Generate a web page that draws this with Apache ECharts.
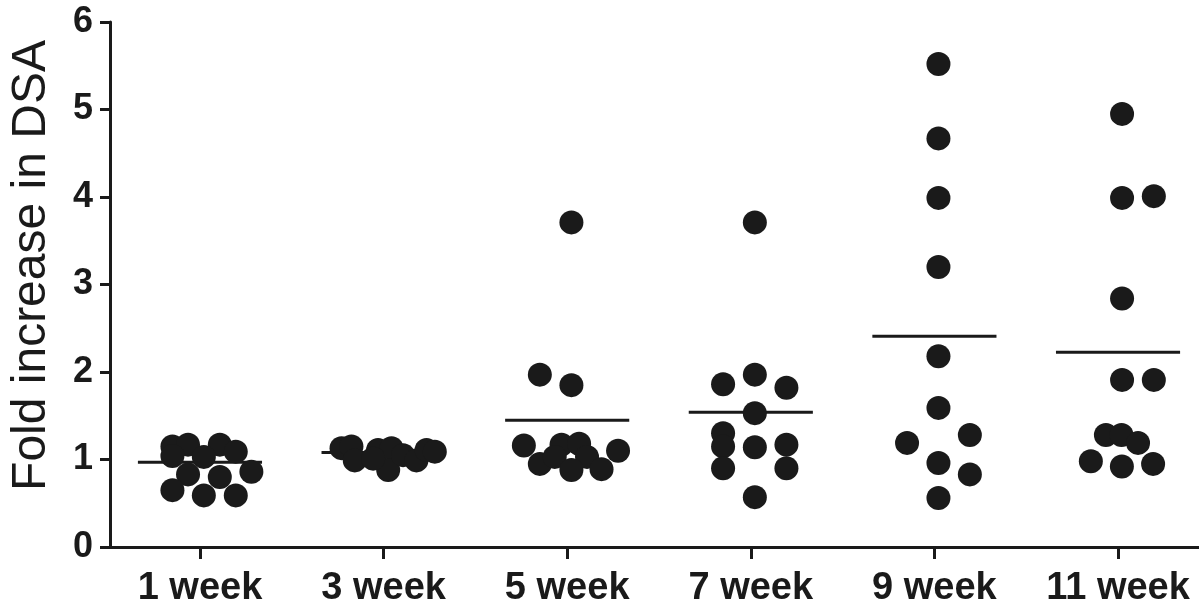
<!DOCTYPE html>
<html>
<head>
<meta charset="utf-8">
<script src="https://cdn.jsdelivr.net/npm/echarts@6/dist/echarts.min.js"></script>
<style>
html,body{margin:0;padding:0;background:#fff;}
#chart{width:1199px;height:606px;}
</style>
</head>
<body>
<div id="chart"></div>
<script>
// ---- data ----
const categories = ['1 week', '3 week', '5 week', '7 week', '9 week', '11 week'];
const yTicks = [0, 1, 2, 3, 4, 5, 6];

const week1Values = [1.15, 1.17, 1.17, 1.09, 1.04, 1.03, 0.83, 0.80, 0.86, 0.65, 0.59, 0.59];
const week1Jitter = [-0.150, -0.065, 0.108, 0.195, -0.150, 0.021, -0.065, 0.108, 0.280, -0.150, 0.021, 0.195];

const week3Values = [1.13, 1.15, 0.99, 1.11, 1.13, 0.88, 1.05, 0.99, 1.11, 1.09, 1.01];
const week3Jitter = [-0.229, -0.175, -0.157, -0.030, 0.043, 0.025, 0.106, 0.179, 0.234, 0.279, -0.057];

const week5Values = [3.71, 1.97, 1.85, 1.16, 0.95, 1.17, 1.18, 1.03, 1.03, 0.88, 0.89, 1.10];
const week5Jitter = [0.023, -0.149, 0.023, -0.236, -0.149, -0.031, 0.065, -0.068, 0.108, 0.023, 0.187, 0.277];

const week7Values = [3.71, 1.86, 1.97, 1.82, 1.53, 1.30, 1.15, 1.14, 1.17, 0.90, 0.90, 0.57];
const week7Jitter = [0.022, -0.151, 0.022, 0.194, 0.022, -0.151, -0.151, 0.022, 0.194, -0.151, 0.194, 0.022];

const week9Values = [5.52, 4.67, 3.99, 3.20, 2.18, 1.59, 1.19, 1.28, 0.96, 0.83, 0.56];
const week9Jitter = [0.022, 0.022, 0.022, 0.022, 0.022, 0.022, -0.149, 0.193, 0.022, 0.193, 0.022];

const week11Values = [4.95, 3.99, 4.01, 2.84, 1.91, 1.91, 1.28, 1.28, 1.19, 0.98, 0.92, 0.95];
const week11Jitter = [0.022, 0.022, 0.195, 0.022, 0.022, 0.195, -0.066, 0.019, 0.109, -0.148, 0.021, 0.191];

const meanValues = [0.97, 1.08, 1.45, 1.54, 2.41, 2.225];

// ---- build ----
const groups = [
  [week1Values, week1Jitter],
  [week3Values, week3Jitter],
  [week5Values, week5Jitter],
  [week7Values, week7Jitter],
  [week9Values, week9Jitter],
  [week11Values, week11Jitter]
];
const points = [];
groups.forEach(function (g, i) {
  g[0].forEach(function (v, j) {
    points.push([i + 1 + g[1][j], v]);
  });
});
const meanData = meanValues.map(function (m, i) { return [i + 1, m]; });
const catPos = categories.map(function (c, i) { return i + 1; });

const INK = '#1a1a1a';
const HALF = 0.338;

const chart = echarts.init(document.getElementById('chart'), null, {renderer: 'canvas'});
chart.setOption({
  animation: false,
  backgroundColor: '#ffffff',
  grid: {left: 110, right: 0, top: 22, bottom: 59, containLabel: false, outerBoundsMode: 'none'},
  xAxis: {
    type: 'value',
    min: 0.51,
    max: 6.441,
    splitLine: {show: false},
    axisLine: {show: true, onZero: false, lineStyle: {color: INK, width: 3}},
    axisTick: {show: true, customValues: catPos, length: 12, lineStyle: {color: INK, width: 3}},
    axisLabel: {
      show: true,
      customValues: catPos,
      hideOverlap: false,
      formatter: function (v) { return categories[Math.round(v) - 1] || ''; },
      fontFamily: 'Liberation Sans, Arial, sans-serif',
      fontWeight: 'bold',
      fontSize: 38,
      color: INK,
      margin: 23
    }
  },
  yAxis: {
    type: 'value',
    min: 0,
    max: 6,
    interval: 1,
    name: 'Fold increase in DSA',
    nameLocation: 'middle',
    nameGap: 54,
    nameTextStyle: {fontFamily: 'Liberation Sans, Arial, sans-serif', fontSize: 48, color: INK, padding: [0, 0, 0, 38]},
    splitLine: {show: false},
    axisLine: {show: true, lineStyle: {color: INK, width: 3}},
    axisTick: {show: true, length: 10, lineStyle: {color: INK, width: 3}},
    axisLabel: {
      fontFamily: 'Liberation Sans, Arial, sans-serif',
      fontWeight: 'bold',
      fontSize: 36,
      color: INK,
      margin: 17,
      formatter: function (v) { return yTicks.indexOf(v) >= 0 ? String(v) : ''; }
    }
  },
  series: [
    {
      type: 'custom',
      z: 1,
      data: meanData,
      renderItem: function (params, api) {
        const p1 = api.coord([api.value(0) - HALF, api.value(1)]);
        const p2 = api.coord([api.value(0) + HALF, api.value(1)]);
        return {
          type: 'line',
          shape: {x1: p1[0], y1: p1[1], x2: p2[0], y2: p2[1]},
          style: {stroke: INK, lineWidth: 3}
        };
      }
    },
    {
      type: 'scatter',
      z: 2,
      data: points,
      symbol: 'circle',
      symbolSize: 24,
      itemStyle: {color: INK, opacity: 1}
    }
  ]
});
</script>
</body>
</html>
